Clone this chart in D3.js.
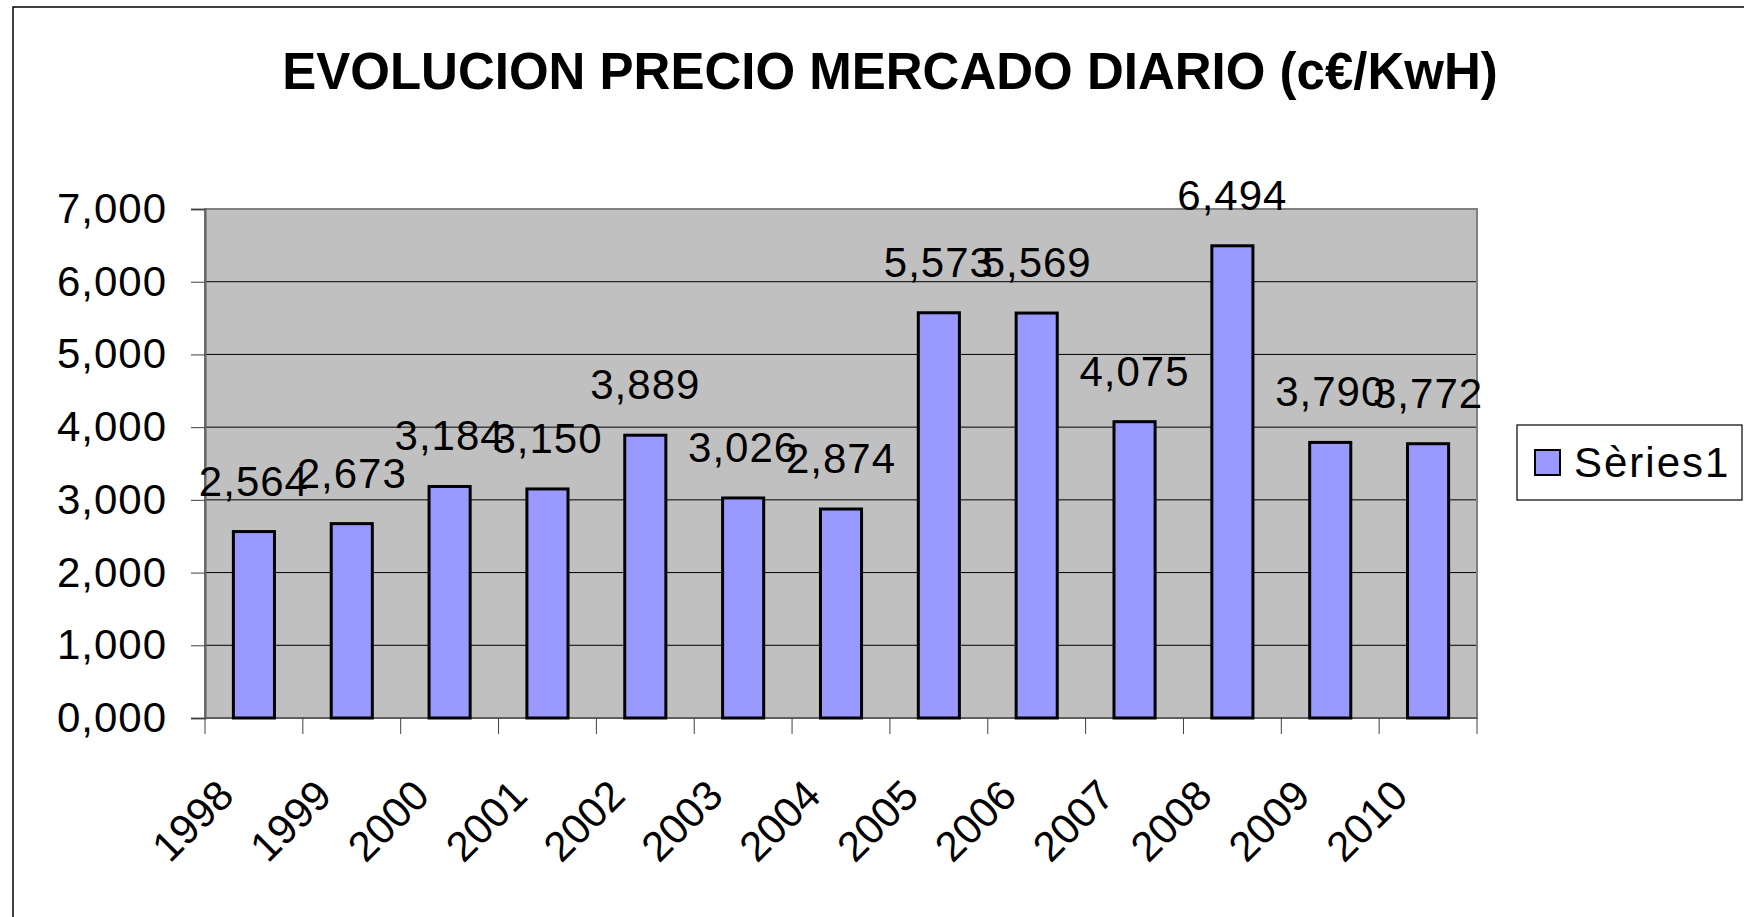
<!DOCTYPE html>
<html lang="es">
<head>
    <meta charset="UTF-8">
    <title>Evolucion precio mercado diario</title>
    <script src="https://d3js.org/d3.v7.min.js"></script>
    <style>
        body {
            margin: 0;
            background: #fff;
            font-family: "Liberation Sans", Arial, sans-serif;
        }
        svg text {
            fill: #000;
        }
    </style>
</head>
<body>
    <div id="chart"></div>
    <script>
        // data
        const years = ["1998", "1999", "2000", "2001", "2002", "2003", "2004",
                       "2005", "2006", "2007", "2008", "2009", "2010"];
        const prices = [2.564, 2.673, 3.184, 3.150, 3.889, 3.026, 2.874,
                        5.573, 5.569, 4.075, 6.494, 3.790, 3.772];
        const yTicks = [0, 1, 2, 3, 4, 5, 6, 7];
        const seriesName = "Sèries1";
        const title = "EVOLUCION PRECIO MERCADO DIARIO (c€/KwH)";

        const W = 1744, H = 917;
        const plot = { left: 205, right: 1477, top: 209, bottom: 718 };
        const fontSize = 42;

        // spanish style numbers: 2,564
        const locale = d3.formatLocale({ decimal: ",", thousands: ".", grouping: [3], currency: ["", "€"] });
        const fmt = locale.format(".3f");

        const svg = d3.select("#chart")
            .append("svg")
            .attr("width", W)
            .attr("height", H);

        svg.append("rect")
            .attr("width", W)
            .attr("height", H)
            .attr("fill", "#fff");

        // chart area border (only top and left visible)
        svg.append("rect")
            .attr("x", 13)
            .attr("y", 7)
            .attr("width", W + 20)
            .attr("height", H + 20)
            .attr("fill", "none")
            .attr("stroke", "#000")
            .attr("stroke-width", 1.5);

        svg.append("text")
            .attr("x", 890)
            .attr("y", 89)
            .attr("text-anchor", "middle")
            .attr("font-size", 51)
            .attr("font-weight", "bold")
            .text(title);

        const x = d3.scaleBand()
            .domain(years)
            .range([plot.left, plot.right])
            .paddingInner(0.58)
            .paddingOuter(0.29);

        const y = d3.scaleLinear()
            .domain([0, 7])
            .range([plot.bottom, plot.top]);

        // plot background
        svg.append("rect")
            .attr("x", plot.left)
            .attr("y", plot.top)
            .attr("width", plot.right - plot.left)
            .attr("height", plot.bottom - plot.top)
            .attr("fill", "#c0c0c0");

        // gridlines
        svg.append("g")
            .selectAll("line")
            .data(yTicks.filter(d => d > 0 && d < 7))
            .join("line")
            .attr("x1", plot.left)
            .attr("x2", plot.right)
            .attr("y1", d => y(d))
            .attr("y2", d => y(d))
            .attr("stroke", "#000")
            .attr("stroke-width", 1);

        // plot border
        svg.append("rect")
            .attr("x", plot.left)
            .attr("y", plot.top)
            .attr("width", plot.right - plot.left)
            .attr("height", plot.bottom - plot.top)
            .attr("fill", "none")
            .attr("stroke", "#808080")
            .attr("stroke-width", 2);

        // y axis
        const yAxis = svg.append("g")
            .attr("transform", `translate(${plot.left},0)`)
            .call(d3.axisLeft(y).tickValues(yTicks).tickSize(14).tickPadding(24).tickFormat(fmt));
        yAxis.select(".domain").attr("stroke", "#606060").attr("stroke-width", 2);
        yAxis.selectAll(".tick line").attr("stroke", "#404040");
        yAxis.selectAll(".tick text")
            .attr("font-size", fontSize)
            .attr("letter-spacing", 1)
            .attr("font-family", "'Liberation Sans', Arial, sans-serif");

        // x axis line + boundary ticks
        svg.append("line")
            .attr("x1", plot.left)
            .attr("x2", plot.right)
            .attr("y1", plot.bottom)
            .attr("y2", plot.bottom)
            .attr("stroke", "#606060")
            .attr("stroke-width", 2);

        svg.append("g")
            .selectAll("line")
            .data(d3.range(years.length + 1))
            .join("line")
            .attr("x1", i => plot.left + i * x.step())
            .attr("x2", i => plot.left + i * x.step())
            .attr("y1", plot.bottom)
            .attr("y2", plot.bottom + 16)
            .attr("stroke", "#404040")
            .attr("stroke-width", 1);

        svg.append("g")
            .selectAll("text")
            .data(years)
            .join("text")
            .attr("transform", d => `translate(${x(d) + x.bandwidth() / 2 - 18},${plot.bottom + 80}) rotate(-45)`)
            .attr("text-anchor", "end")
            .attr("font-size", fontSize)
            .text(d => d);

        // bars
        const data = years.map((yr, i) => ({ year: yr, value: prices[i] }));

        svg.append("g")
            .selectAll("rect")
            .data(data)
            .join("rect")
            .attr("x", d => x(d.year))
            .attr("y", d => y(d.value))
            .attr("width", x.bandwidth())
            .attr("height", d => y(0) - y(d.value))
            .attr("fill", "#9999ff")
            .attr("stroke", "#000")
            .attr("stroke-width", 3);

        // value labels
        svg.append("g")
            .selectAll("text")
            .data(data)
            .join("text")
            .attr("x", d => x(d.year) + x.bandwidth() / 2)
            .attr("y", d => y(d.value) - 36)
            .attr("text-anchor", "middle")
            .attr("font-size", fontSize)
            .attr("letter-spacing", 1)
            .text(d => fmt(d.value));

        // legend
        const legend = svg.append("g");
        legend.append("rect")
            .attr("x", 1517)
            .attr("y", 425)
            .attr("width", 225)
            .attr("height", 75)
            .attr("fill", "#fff")
            .attr("stroke", "#000")
            .attr("stroke-width", 1.2);
        legend.append("rect")
            .attr("x", 1535)
            .attr("y", 450)
            .attr("width", 25)
            .attr("height", 25)
            .attr("fill", "#9999ff")
            .attr("stroke", "#000")
            .attr("stroke-width", 2);
        legend.append("text")
            .attr("x", 1574)
            .attr("y", 477)
            .attr("font-size", fontSize)
            .attr("letter-spacing", 2)
            .text(seriesName);
    </script>
</body>
</html>
